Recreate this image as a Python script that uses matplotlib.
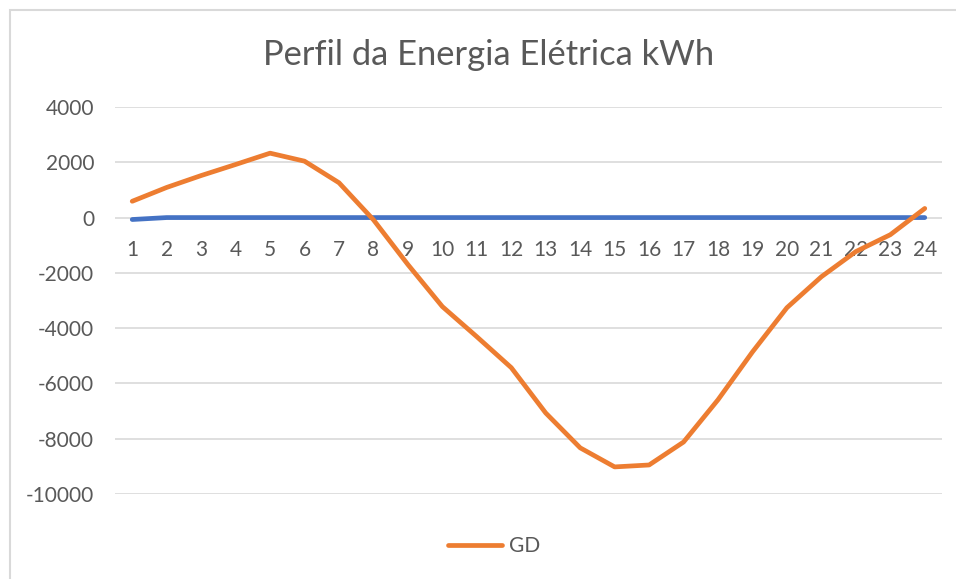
import matplotlib.pyplot as plt
from matplotlib.patches import Rectangle

hours = list(range(1, 25))
gd = [590, 1090, 1520, 1920, 2330, 2040, 1260, -80, -1700, -3220, -4310, -5430,
      -7070, -8330, -9020, -8950, -8120, -6590, -4860, -3260, -2140, -1230, -620, 330]
base = [-70] + [0] * 23
yticks = [4000, 2000, 0, -2000, -4000, -6000, -8000, -10000]

grey = "#595959"
plt.rcParams["font.family"] = ["Lato", "DejaVu Sans"]
plt.rcParams["axes.unicode_minus"] = False

fig = plt.figure(figsize=(9.56, 5.79), dpi=100)
fig.patches.append(Rectangle((10 / 956, -0.05), 1.2, 1 - 10 / 579 + 0.05,
                             transform=fig.transFigure, fill=False,
                             edgecolor="#d9d9d9", linewidth=1.5))

ax = fig.add_axes([115 / 956, 1 - 494 / 579, 827 / 956, 387 / 579])
ax.plot(hours, base, color="#4472C4", linewidth=3.4, solid_capstyle="round")
ax.plot(hours, gd, color="#ED7D31", linewidth=3.4, solid_capstyle="round",
        solid_joinstyle="round", label="GD")

ax.set_xlim(0.5, 24.5)
ax.set_ylim(-10000, 4000)
ax.set_yticks(yticks)
ax.set_xticks(hours)
ax.grid(axis="y", color="#d9d9d9", linewidth=1.2)
ax.set_axisbelow(True)
for s in ["top", "right", "left"]:
    ax.spines[s].set_visible(False)
ax.spines["bottom"].set_position(("data", 0))
ax.spines["bottom"].set_visible(False)
ax.tick_params(axis="y", length=0, pad=15, labelsize=15, labelcolor=grey)
ax.tick_params(axis="x", length=0, pad=16, labelsize=15, labelcolor=grey)

fig.suptitle("Perfil da Energia Elétrica kWh", x=489 / 956, y=1 - 55 / 579,
             va="center", fontsize=24.8, color=grey)

handles, labels = ax.get_legend_handles_labels()
fig.legend(handles, labels, loc="center", bbox_to_anchor=(494 / 956, 1 - 546 / 579),
           frameon=False, fontsize=15, labelcolor=grey, handlelength=2.6,
           handletextpad=0.3)

fig.savefig("out.png", dpi=100)
